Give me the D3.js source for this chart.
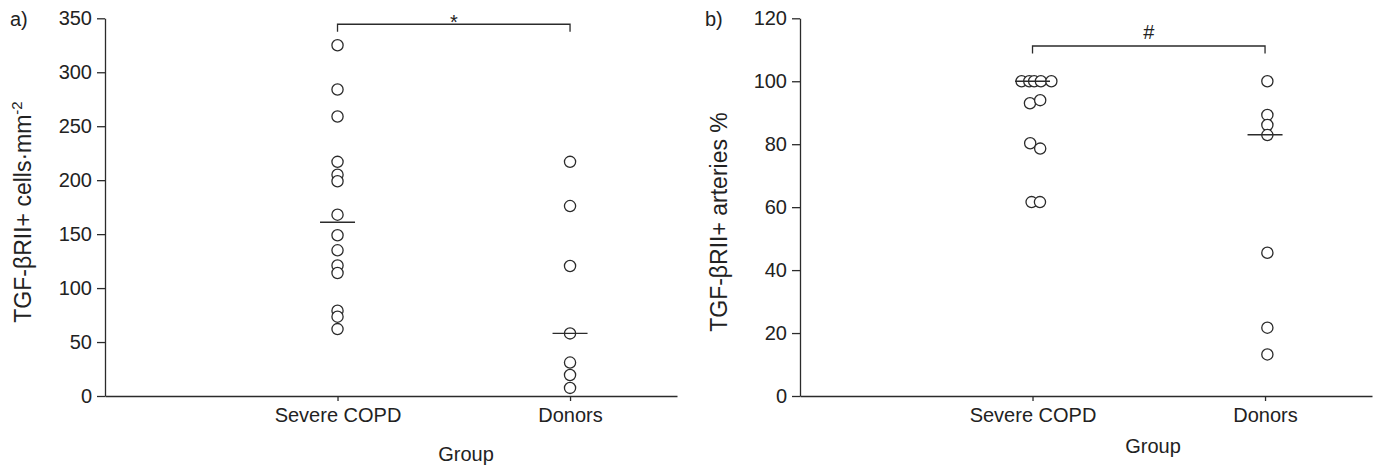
<!DOCTYPE html>
<html>
<head>
<meta charset="utf-8">
<script src="https://cdn.jsdelivr.net/npm/d3@7"></script>
<style>
body{margin:0;background:#fff}
text{font-family:"Liberation Sans",Arial,Helvetica,sans-serif;fill:#222}
</style>
</head>
<body>
<svg id="chart" width="1379" height="466"></svg>
<script>
// data
var groups = ["Severe COPD", "Donors"]

// a) TGF-bRII+ cells per mm2
var cellsCOPD = [325, 284, 259, 217, 205, 199, 168, 149, 135, 121, 114, 79, 73.5, 62]
var cellsDonors = [217, 176, 120.5, 58, 31, 19.5, 7.5]
var cellsMedians = [161, 58]
var cellsTicks = [0, 50, 100, 150, 200, 250, 300, 350]

// b) TGF-bRII+ arteries %
var arteriesCOPD = [100, 100, 100, 100, 100, 93, 94, 80.3, 78.6, 61.6, 61.6]
var arteriesCOPDJitter = [-0.047, -0.014, 0.007, 0.036, 0.081, -0.011, 0.033, -0.010, 0.033, -0.004, 0.032]
var arteriesDonors = [100, 89.3, 86.1, 82.9, 45.5, 21.7, 13.2]
var arteriesDonorsJitter = [0.01, 0.01, 0.01, 0.01, 0.01, 0.01, 0.01]
var arteriesMedians = [100, 83]
var arteriesTicks = [0, 20, 40, 60, 80, 100, 120]

var svg = d3.select("#chart")
var ink = "#2b2b2b"

function panel(opt){
    var left = opt.left, right = opt.left+572, top = 18.3, bottom = 396
    var x = d3.scaleLinear().domain([0, 2.46]).range([left, right])
    var y = d3.scaleLinear().domain([0, opt.max]).range([bottom, top])
    var g = svg.append("g")

    // y axis
    var yAxis = g.append("g").attr("transform","translate("+left+",0)")
        .call(d3.axisLeft(y).tickValues(opt.ticks).tickSize(8).tickPadding(5).tickSizeOuter(0))
    yAxis.selectAll("text").style("font-size","20px").attr("fill",ink)
    yAxis.selectAll("line,path").attr("stroke",ink).attr("stroke-width",1.3)

    // x axis
    var xAxis = g.append("g").attr("transform","translate(0,"+bottom+")")
        .call(d3.axisBottom(x).tickValues([1,2]).tickFormat(function(d){return groups[d-1]})
            .tickSize(5).tickPadding(7).tickSizeOuter(0))
    xAxis.selectAll("text").style("font-size","20px").attr("fill",ink)
    xAxis.selectAll("line,path").attr("stroke",ink).attr("stroke-width",1.3)

    // points
    var pts = []
    for(var i in opt.series){
        var vals = opt.series[i]
        for(var v in vals){
            var jit = opt.jitter[i] ? opt.jitter[i][v] : 0
            pts.push({x:+i+1+jit, y:vals[v]})
        }
    }
    g.selectAll("circle").data(pts).enter().append("circle")
        .attr("cx",function(d){return x(d.x)})
        .attr("cy",function(d){return y(d.y)})
        .attr("r",5.6)
        .attr("fill","#fff")
        .attr("stroke",ink)
        .attr("stroke-width",1.3)

    // medians
    g.selectAll(".median").data(opt.medians).enter().append("line")
        .attr("class","median")
        .attr("x1",function(d,i){return x(i+1)-17.5})
        .attr("x2",function(d,i){return x(i+1)+17.5})
        .attr("y1",function(d){return y(d)})
        .attr("y2",function(d){return y(d)})
        .attr("stroke",ink).attr("stroke-width",1.3)

    // significance bracket
    var by = y(opt.bracket), bd = y(opt.bracket)+7.5
    g.append("path")
        .attr("d","M"+x(1)+","+bd+"V"+by+"H"+x(2)+"V"+bd)
        .attr("fill","none").attr("stroke",ink).attr("stroke-width",1.3)
    g.append("text").attr("x",(x(1)+x(2))/2).attr("y",opt.markY)
        .attr("text-anchor","middle").style("font-size","20px").text(opt.mark)

    // panel letter
    g.append("text").attr("x",opt.letterX).attr("y",26).style("font-size","20px").text(opt.letter)

    // y title
    var yt = g.append("text")
        .attr("transform","translate("+opt.titleX+","+opt.titleY+") rotate(-90)")
        .attr("text-anchor","middle").style("font-size","23px")
    yt.append("tspan").text(opt.yTitle)
    if(opt.sup){
        yt.append("tspan").attr("dy","-0.6em").style("font-size","15px").text(opt.sup)
    }

    // x title
    g.append("text").attr("x",opt.groupX).attr("y",opt.groupY)
        .attr("text-anchor","middle").style("font-size","20px").text("Group")
}

panel({left:105, max:350, ticks:cellsTicks, series:[cellsCOPD, cellsDonors], jitter:[], medians:cellsMedians,
    bracket:344.5, mark:"*", markY:29, letter:"a)", letterX:10,
    yTitle:"TGF-\u03b2RII+ cells\u00b7mm", sup:"-2", titleX:31, titleY:212,
    groupX:466, groupY:461})

panel({left:800, max:120, ticks:arteriesTicks, series:[arteriesCOPD, arteriesDonors],
    jitter:[arteriesCOPDJitter, arteriesDonorsJitter], medians:arteriesMedians,
    bracket:111.2, mark:"#", markY:38.5, letter:"b)", letterX:705,
    yTitle:"TGF-\u03b2RII+ arteries %", sup:null, titleX:727, titleY:222,
    groupX:1153, groupY:453})
</script>
</body>
</html>
